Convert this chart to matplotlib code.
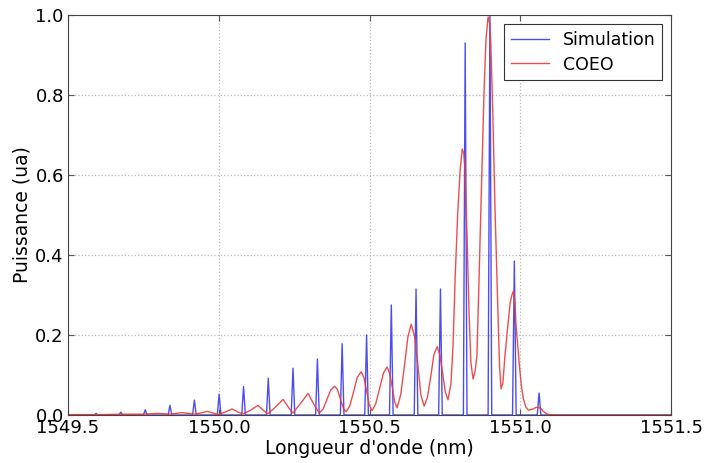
import matplotlib
matplotlib.use("Agg")
import matplotlib.pyplot as plt
import numpy as np

# Simulation: comb line positions (nm) and heights (ua)
sim_wavelengths = [1549.593, 1549.675, 1549.756, 1549.838, 1549.919, 1550.001,
                   1550.082, 1550.164, 1550.246, 1550.327, 1550.409, 1550.490,
                   1550.572, 1550.654, 1550.735, 1550.817, 1550.899, 1550.980,
                   1551.062]
sim_heights = [0.004, 0.007, 0.013, 0.024, 0.037, 0.052, 0.071, 0.092, 0.117,
               0.140, 0.178, 0.200, 0.275, 0.315, 0.315, 0.930, 1.000, 0.385,
               0.055]
line_halfwidth = 0.006  # nm, spectral width of each simulated line

# COEO measured spectrum
coeo_wavelengths = [
    1549.500, 1549.600, 1549.700, 1549.750, 1549.800, 1549.838, 1549.878,
    1549.918, 1549.940, 1549.961, 1549.980, 1549.998, 1550.020, 1550.044,
    1550.062, 1550.080, 1550.105, 1550.130, 1550.147, 1550.163, 1550.188,
    1550.213, 1550.230, 1550.246, 1550.272, 1550.296, 1550.315, 1550.333,
    1550.346, 1550.358, 1550.371, 1550.384, 1550.394, 1550.403, 1550.413,
    1550.422, 1550.434, 1550.447, 1550.459, 1550.472, 1550.481, 1550.490,
    1550.499, 1550.508, 1550.520, 1550.533, 1550.546, 1550.558, 1550.566,
    1550.575, 1550.583, 1550.591, 1550.603, 1550.615, 1550.627, 1550.638,
    1550.649, 1550.660, 1550.670, 1550.681, 1550.692, 1550.703, 1550.713,
    1550.724, 1550.733, 1550.742, 1550.751, 1550.760, 1550.770, 1550.777,
    1550.784, 1550.792, 1550.800, 1550.807, 1550.812, 1550.816, 1550.823,
    1550.830, 1550.836, 1550.843, 1550.850, 1550.856, 1550.864, 1550.872,
    1550.880, 1550.886, 1550.893, 1550.898, 1550.902, 1550.909, 1550.916,
    1550.927, 1550.931, 1550.936, 1550.942, 1550.949, 1550.958, 1550.966,
    1550.972, 1550.977, 1550.982, 1550.986, 1550.996, 1551.003, 1551.010,
    1551.018, 1551.027, 1551.042, 1551.052, 1551.060, 1551.068, 1551.075,
    1551.085, 1551.095, 1551.132, 1551.500]
coeo_power = [
    0.001, 0.001, 0.002, 0.002, 0.004, 0.002, 0.006,
    0.002, 0.005, 0.009, 0.005, 0.001, 0.007, 0.015,
    0.008, 0.002, 0.012, 0.024, 0.012, 0.003, 0.020,
    0.039, 0.020, 0.005, 0.030, 0.054, 0.027, 0.005,
    0.015, 0.038, 0.062, 0.072, 0.063, 0.040, 0.017,
    0.008, 0.022, 0.058, 0.094, 0.108, 0.094, 0.060,
    0.025, 0.011, 0.027, 0.066, 0.105, 0.120, 0.105,
    0.070, 0.033, 0.018, 0.050, 0.120, 0.195, 0.227,
    0.197, 0.125, 0.050, 0.022, 0.045, 0.097, 0.150,
    0.171, 0.150, 0.105, 0.058, 0.038, 0.080, 0.180,
    0.350, 0.500, 0.610, 0.665, 0.655, 0.620, 0.450,
    0.250, 0.130, 0.090, 0.110, 0.150, 0.370, 0.600,
    0.820, 0.940, 0.995, 0.980, 0.930, 0.740, 0.510,
    0.220, 0.120, 0.065, 0.080, 0.150, 0.220, 0.280,
    0.300, 0.310, 0.280, 0.220, 0.130, 0.075, 0.040,
    0.020, 0.012, 0.015, 0.019, 0.019, 0.016, 0.010,
    0.004, 0.001, 0.000, 0.000]

x_ticks = [1549.5, 1550.0, 1550.5, 1551.0, 1551.5]
y_ticks = [0.0, 0.2, 0.4, 0.6, 0.8, 1.0]

# Build simulation trace: narrow triangular lines on zero baseline
sim_x = [1549.5]
sim_y = [0.0]
for wl, h in zip(sim_wavelengths, sim_heights):
    sim_x += [wl - line_halfwidth, wl, wl + line_halfwidth]
    sim_y += [0.0, h, 0.0]
sim_x.append(1551.5)
sim_y.append(0.0)

plt.rcParams['font.family'] = ['DejaVu Sans']
fig = plt.figure(figsize=(7.05, 4.63), dpi=100)
fig.patch.set_facecolor('white')
ax = fig.add_axes([0.0965, 0.1037, 0.8555, 0.864])

ax.plot(sim_x, sim_y, color='#3a3aee', lw=1.0, alpha=0.9, label='Simulation')
ax.plot(coeo_wavelengths, coeo_power, color='#ee3a3a', lw=1.0, alpha=0.9, label='COEO')

ax.set_xlim(1549.5, 1551.5)
ax.set_ylim(0.0, 1.0)
ax.set_xticks(x_ticks)
ax.set_yticks(y_ticks)
ax.set_xticklabels([f"{t:.1f}" for t in x_ticks])
ax.set_yticklabels([f"{t:.1f}" for t in y_ticks])
ax.tick_params(direction='in', top=True, right=True, labelsize=13, length=4,
               pad=3, color='#555555')
ax.grid(True, color='#bbbbbb', linestyle=':', linewidth=0.9)
for s in ax.spines.values():
    s.set_color('#444444')
    s.set_linewidth(0.8)

ax.set_xlabel("Longueur d'onde (nm)", fontsize=13.5, labelpad=1)
ax.set_ylabel("Puissance (ua)", fontsize=13.5, labelpad=3)

leg = ax.legend(loc='upper right', fontsize=12.5, fancybox=False, framealpha=1,
                edgecolor='#333333', handlelength=2.2, borderpad=0.4,
                labelspacing=0.4)
leg.get_frame().set_linewidth(0.8)

fig.savefig('out.png', dpi=100, facecolor='white')
